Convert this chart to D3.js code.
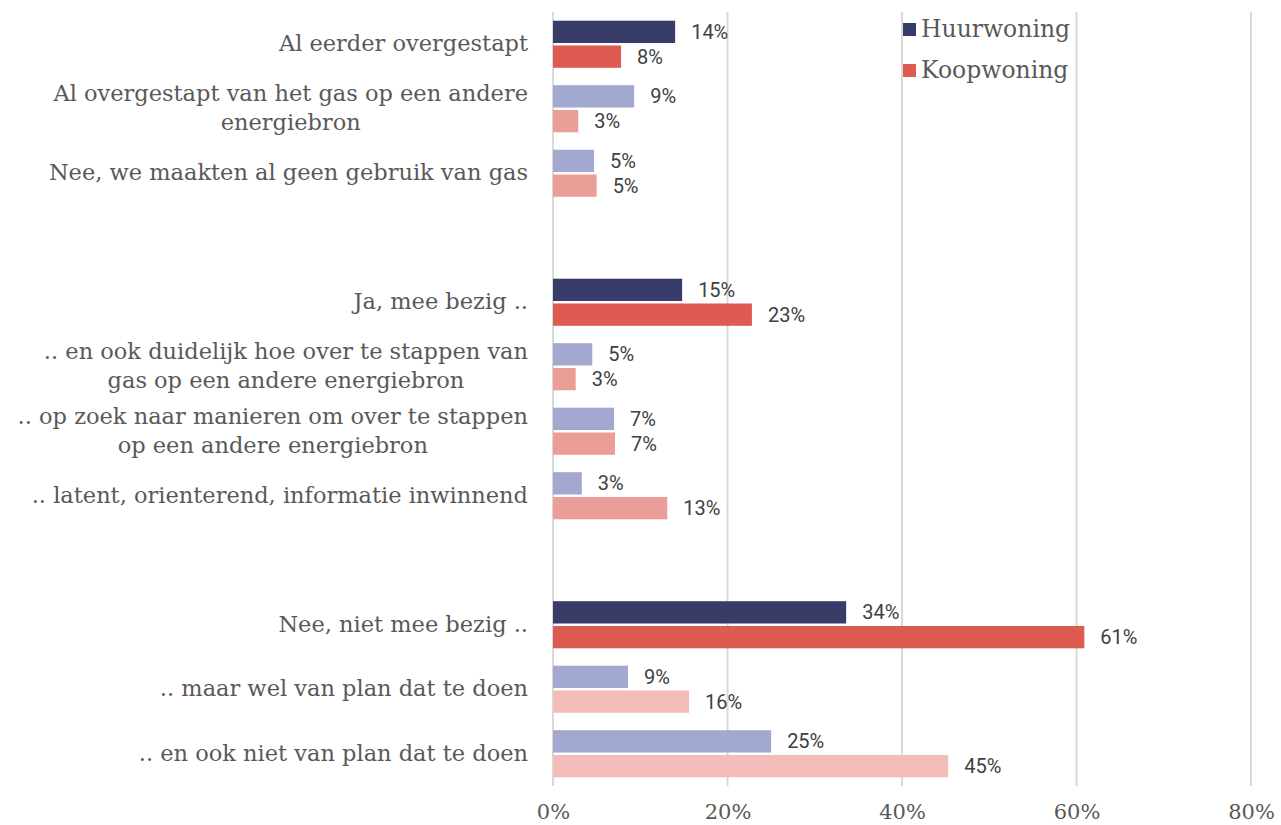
<!DOCTYPE html>
<html>
  <head>
    <meta charset="utf-8" />
    <title>Overstappen van gas - huur vs koop</title>
    <script src="https://d3js.org/d3.v7.min.js"></script>
    <style>
      body { margin: 0; background: #fff; }
      .cat { font-family: "DejaVu Serif", serif; font-size: 22.5px; fill: #595959; }
      .tick-label { font-family: "DejaVu Serif", serif; font-size: 21px; fill: #595959; }
      .legend text { font-family: "DejaVu Serif", serif; font-size: 23.5px; fill: #595959; }
      .val { font-family: Roboto, sans-serif; font-size: 20px; fill: #404040; }
    </style>
  </head>
  <body>
    <div id="chart"></div>
    <script>
      // category labels (already split into the lines shown), [] = empty spacer row
      var labelLines = [
        ["Al eerder overgestapt"],
        ["Al overgestapt van het gas op een andere", "energiebron"],
        ["Nee, we maakten al geen gebruik van gas"],
        [],
        ["Ja, mee bezig .."],
        [".. en ook duidelijk hoe over te stappen van", "gas op een andere energiebron"],
        [".. op zoek naar manieren om over te stappen", "op een andere energiebron"],
        [".. latent, orienterend, informatie inwinnend"],
        [],
        ["Nee, niet mee bezig .."],
        [".. maar wel van plan dat te doen"],
        [".. en ook niet van plan dat te doen"]
      ];
      var huurwoning = [14.0, 9.3, 4.7, null, 14.8, 4.5, 7.0, 3.3, null, 33.6, 8.6, 25.0];
      var koopwoning = [7.8, 2.9, 5.0, null, 22.8, 2.6, 7.1, 13.1, null, 60.9, 15.6, 45.3];
      var huurLabels = ["14%", "9%", "5%", "", "15%", "5%", "7%", "3%", "", "34%", "9%", "25%"];
      var koopLabels = ["8%", "3%", "5%", "", "23%", "3%", "7%", "13%", "", "61%", "16%", "45%"];
      var series = ["Huurwoning", "Koopwoning"];
      var xTicks = [0, 20, 40, 60, 80];

      var width = 1281, height = 825;
      var mainRows = [0, 4, 9];
      var lastGroupStart = 9;

      var svg = d3.select("#chart").append("svg")
        .attr("width", width)
        .attr("height", height);

      var x = d3.scaleLinear().domain([0, 80]).range([553, 1251]);
      var y = d3.scaleBand()
        .domain(d3.range(labelLines.length))
        .range([12, 786])
        .paddingInner(0.27)
        .paddingOuter(0.135);
      var ySub = d3.scaleBand().domain(series).range([0, y.bandwidth()]).paddingInner(0.1);

      function colour(s, i) {
        var main = mainRows.indexOf(i) >= 0;
        if (s === "Huurwoning") return main ? "#383c68" : "#a3a8d0";
        if (main) return "#de5b52";
        return i > lastGroupStart ? "#f2bdb9" : "#eb9e98";
      }

      // gridlines
      svg.append("g")
        .selectAll("line")
        .data(xTicks)
        .join("line")
        .attr("x1", function (d) { return x(d); })
        .attr("x2", function (d) { return x(d); })
        .attr("y1", 12)
        .attr("y2", 786)
        .attr("stroke", "#d9d9d9")
        .attr("stroke-width", 2);

      // x axis labels
      var xAxis = svg.append("g")
        .attr("transform", "translate(0,798)")
        .call(d3.axisBottom(x).tickValues(xTicks).tickSize(0).tickFormat(function (d) { return d + "%"; }));
      xAxis.select(".domain").remove();
      xAxis.selectAll("text")
        .attr("class", "tick-label")
        .attr("dy", null)
        .attr("y", 21)
        .attr("fill", null);

      // bars
      var rows = labelLines.map(function (l, i) {
        return { i: i, vals: [
          { s: "Huurwoning", v: huurwoning[i], t: huurLabels[i] },
          { s: "Koopwoning", v: koopwoning[i], t: koopLabels[i] }
        ] };
      }).filter(function (r) { return r.vals[0].v !== null; });

      var rowG = svg.append("g")
        .selectAll("g")
        .data(rows)
        .join("g")
        .attr("transform", function (r) { return "translate(0," + y(r.i) + ")"; });

      rowG.selectAll("rect")
        .data(function (r) { return r.vals.map(function (d) { return Object.assign({ i: r.i }, d); }); })
        .join("rect")
        .attr("x", x(0))
        .attr("y", function (d) { return ySub(d.s); })
        .attr("width", function (d) { return x(d.v) - x(0); })
        .attr("height", ySub.bandwidth())
        .attr("fill", function (d) { return colour(d.s, d.i); });

      rowG.selectAll("text")
        .data(function (r) { return r.vals; })
        .join("text")
        .attr("class", "val")
        .attr("x", function (d) { return x(d.v) + 16; })
        .attr("y", function (d) { return ySub(d.s) + ySub.bandwidth() / 2 + 7; })
        .text(function (d) { return d.t; });

      // category labels: block right-aligned, lines centred within block
      var catG = svg.append("g");
      labelLines.forEach(function (lines, i) {
        if (!lines.length) return;
        var cy = y(i) + y.bandwidth() / 2;
        var lh = 29;
        var texts = lines.map(function (line, k) {
          return catG.append("text")
            .attr("class", "cat")
            .attr("y", cy + (k - (lines.length - 1) / 2) * lh + 7)
            .text(line);
        });
        var maxW = d3.max(texts, function (t) { return t.node().getComputedTextLength(); });
        texts.forEach(function (t) {
          t.attr("x", 528 - maxW / 2).attr("text-anchor", "middle");
        });
      });

      // legend
      var legend = svg.append("g").attr("class", "legend");
      series.forEach(function (s, k) {
        var ly = 23 + k * 41;
        legend.append("rect")
          .attr("x", 903).attr("y", ly)
          .attr("width", 13).attr("height", 13)
          .attr("fill", colour(s, 0));
        legend.append("text")
          .attr("x", 921).attr("y", ly + 14)
          .text(s);
      });
    </script>
  </body>
</html>
